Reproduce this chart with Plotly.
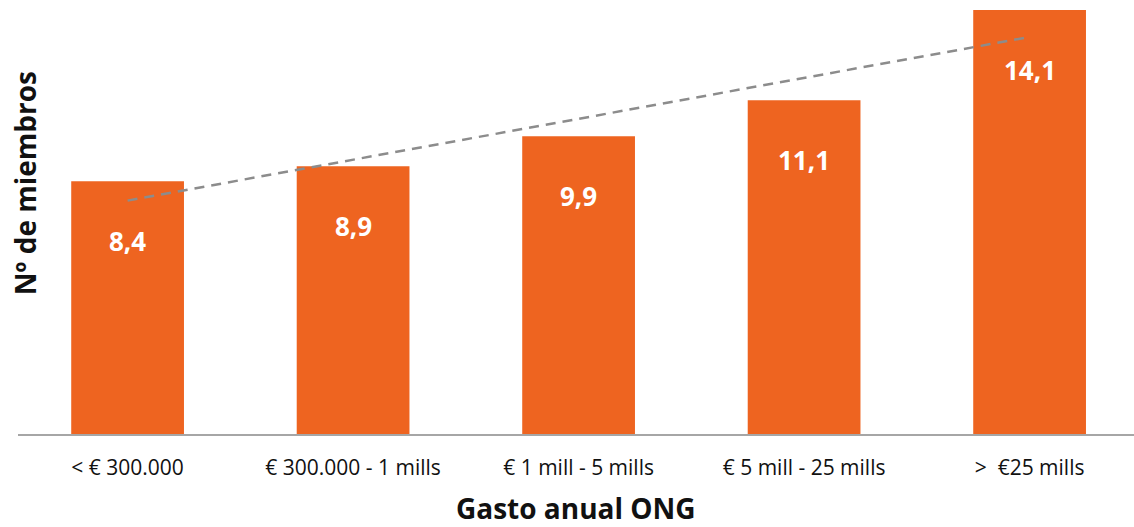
import numpy as np
import plotly.graph_objects as go

# Annual NGO expenditure brackets and average number of members
categories = ["< € 300.000", "€ 300.000 - 1 mills", "€ 1 mill - 5 mills",
              "€ 5 mill - 25 mills", ">  €25 mills"]
members = [8.4, 8.9, 9.9, 11.1, 14.1]
value_labels = ["8,4", "8,9", "9,9", "11,1", "14,1"]

x_pos = list(range(len(categories)))

# Linear trend fitted over the bracket index
slope, intercept = np.polyfit(x_pos, members, 1)
trend_x = [x_pos[0], x_pos[-1]]
trend_y = [intercept + slope * xv for xv in trend_x]

BAR_COLOR = "#EE6420"
FONT = "Open Sans"

fig = go.Figure()
fig.add_trace(go.Bar(
    x=x_pos, y=members, width=0.5,
    marker=dict(color=BAR_COLOR, line=dict(width=0)),
    hoverinfo="skip",
))
fig.add_trace(go.Scatter(
    x=trend_x, y=trend_y, mode="lines",
    line=dict(color="#8C8C8C", width=2.5, dash="10px,7px"),
    hoverinfo="skip",
))

for xv, v, lab in zip(x_pos, members, value_labels):
    fig.add_annotation(
        x=xv, y=v, xref="x", yref="y", text=f"<b>{lab}</b>",
        showarrow=False, yshift=-60,
        font=dict(family=FONT, size=26, color="white"),
    )

fig.add_annotation(
    x=0.5, y=-0.17, xref="paper", yref="paper", xanchor="center", yanchor="middle",
    text="<b>Gasto anual ONG</b>", showarrow=False,
    font=dict(family=FONT, size=28, color="#111111"),
)
fig.add_annotation(
    x=0.0063, y=0.578, xref="paper", yref="paper", xanchor="center", yanchor="middle",
    text="<b>Nº de miembros</b>", showarrow=False, textangle=-90,
    font=dict(family=FONT, size=28, color="#111111"),
)

fig.update_layout(
    width=1134, height=527,
    margin=dict(l=18, r=0, t=0, b=93),
    paper_bgcolor="white", plot_bgcolor="white",
    showlegend=False,
    bargap=0.5,
    xaxis=dict(
        range=[-0.486, 4.463],
        tickmode="array", tickvals=x_pos, ticktext=categories,
        showline=True, linecolor="#A6A6A6", linewidth=1.5,
        showgrid=False, zeroline=False, ticks="",
        ticklabelstandoff=14,
        tickfont=dict(family=FONT, size=21, color="#111111"),
        fixedrange=True,
    ),
    yaxis=dict(
        range=[0, 14.43], visible=False, showgrid=False, zeroline=False,
        fixedrange=True,
    ),
)

fig.write_html("out.html")
